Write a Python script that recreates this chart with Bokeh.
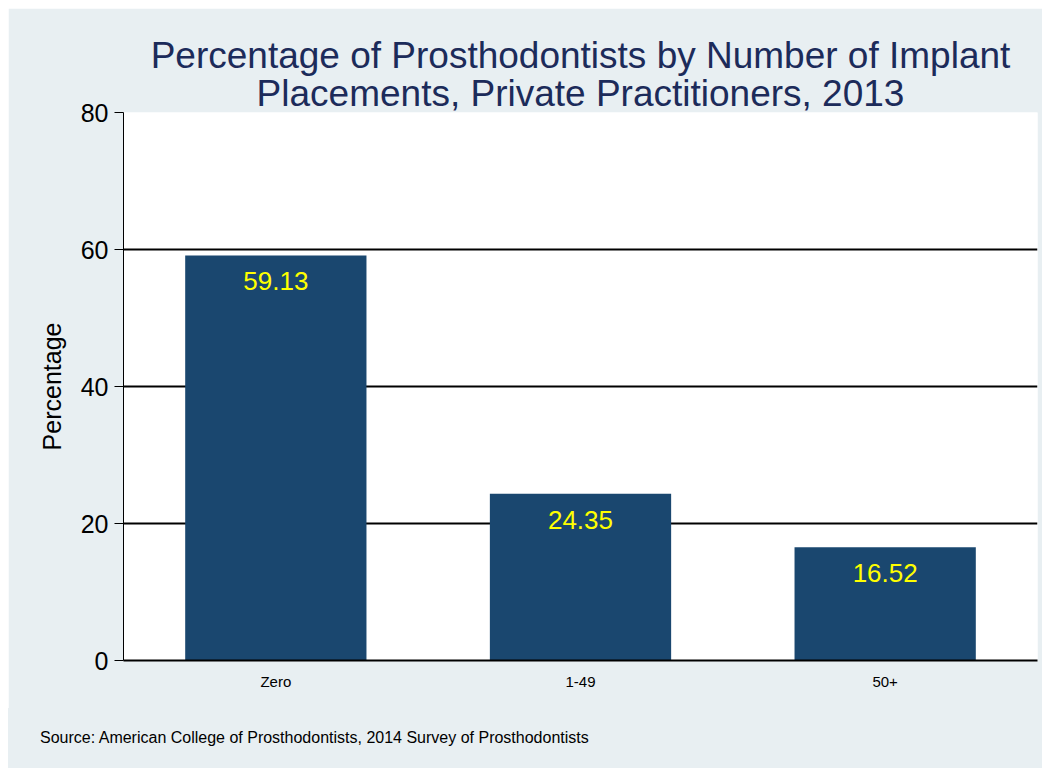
from bokeh.plotting import figure
from bokeh.models import ColumnDataSource, FixedTicker, LabelSet, Title, Range1d, Div
from bokeh.layouts import column
from bokeh.core.properties import value
from bokeh.embed import file_html
from bokeh.resources import INLINE

categories = ["Zero", "1-49", "50+"]
percentages = [59.13, 24.35, 16.52]
labels = ["59.13", "24.35", "16.52"]
y_ticks = [0, 20, 40, 60, 80]
title_lines = ["Percentage of Prosthodontists by Number of Implant",
               "Placements, Private Practitioners, 2013"]
source_note = "Source: American College of Prosthodontists, 2014 Survey of Prosthodontists"

FONT = "Liberation Sans"
BG = "#e8eff2"
BAR = "#1a476f"
TITLE_COLOR = "#1c2b5a"

src = ColumnDataSource(dict(cat=categories, val=percentages, lab=labels))

p = figure(x_range=categories, y_range=Range1d(0, 80), width=1034, height=700,
           output_backend="svg", toolbar_location=None,
           min_border_left=115, min_border_top=104, min_border_bottom=48, min_border_right=5)
p.background_fill_color = "white"
p.border_fill_color = BG
p.outline_line_color = None

p.vbar(x="cat", top="val", width=0.595, source=src, color=BAR, line_color=None)

p.add_layout(LabelSet(x="cat", y="val", text="lab", source=src, y_offset=-26,
                      text_align="center", text_baseline="middle",
                      text_color="#ffff00", text_font_size="26px", text_font=value(FONT)))

# first title line (outer), second line added next to the frame
p.title.text = title_lines[0]
p.title.align = "center"
p.title.text_font = FONT
p.title.text_font_size = "37px"
p.title.text_font_style = "normal"
p.title.text_color = TITLE_COLOR
p.title.standoff = -9
p.add_layout(Title(text=title_lines[1], align="center", text_font_size="37px", text_font=FONT,
                   text_font_style="normal", text_color=TITLE_COLOR, standoff=-2), "above")

p.yaxis.ticker = FixedTicker(ticks=y_ticks)
p.yaxis.axis_label = "Percentage"
p.yaxis.axis_label_text_font = FONT
p.yaxis.axis_label_text_font_size = "25px"
p.yaxis.axis_label_text_font_style = "normal"
p.yaxis.axis_label_text_color = "black"
p.yaxis.axis_label_standoff = 12
p.yaxis.major_label_text_font = FONT
p.yaxis.major_label_text_font_size = "25px"
p.yaxis.major_label_text_color = "black"
p.yaxis.major_tick_out = 9
p.yaxis.major_tick_in = 0
p.yaxis.minor_tick_line_color = None
p.yaxis.axis_line_color = "black"
p.yaxis.major_tick_line_color = "black"
p.yaxis.major_label_standoff = 6

p.xaxis.major_label_text_font = FONT
p.xaxis.major_label_text_font_size = "15px"
p.xaxis.major_label_text_color = "black"
p.xaxis.major_tick_line_color = None
p.xaxis.major_tick_out = 0
p.xaxis.major_tick_in = 0
p.xaxis.axis_line_color = "black"
p.xaxis.axis_line_width = 2
p.xaxis.major_label_standoff = 12

p.xgrid.grid_line_color = None
p.ygrid.ticker = FixedTicker(ticks=[20, 40, 60])
p.ygrid.grid_line_color = "black"
p.ygrid.grid_line_width = 2
p.ygrid.grid_line_alpha = 1.0

note = Div(text=('<div style="padding:20px 0 0 32px; font-family:\'Liberation Sans\'; '
                 'font-size:16px; color:black; line-height:20px;">' + source_note + '</div>'),
           width=1034, height=60, margin=0, styles={"background-color": BG})

layout = column(p, note, spacing=0, margin=(8, 0, 0, 8))

open("out.html", "w").write(file_html(layout, INLINE))
